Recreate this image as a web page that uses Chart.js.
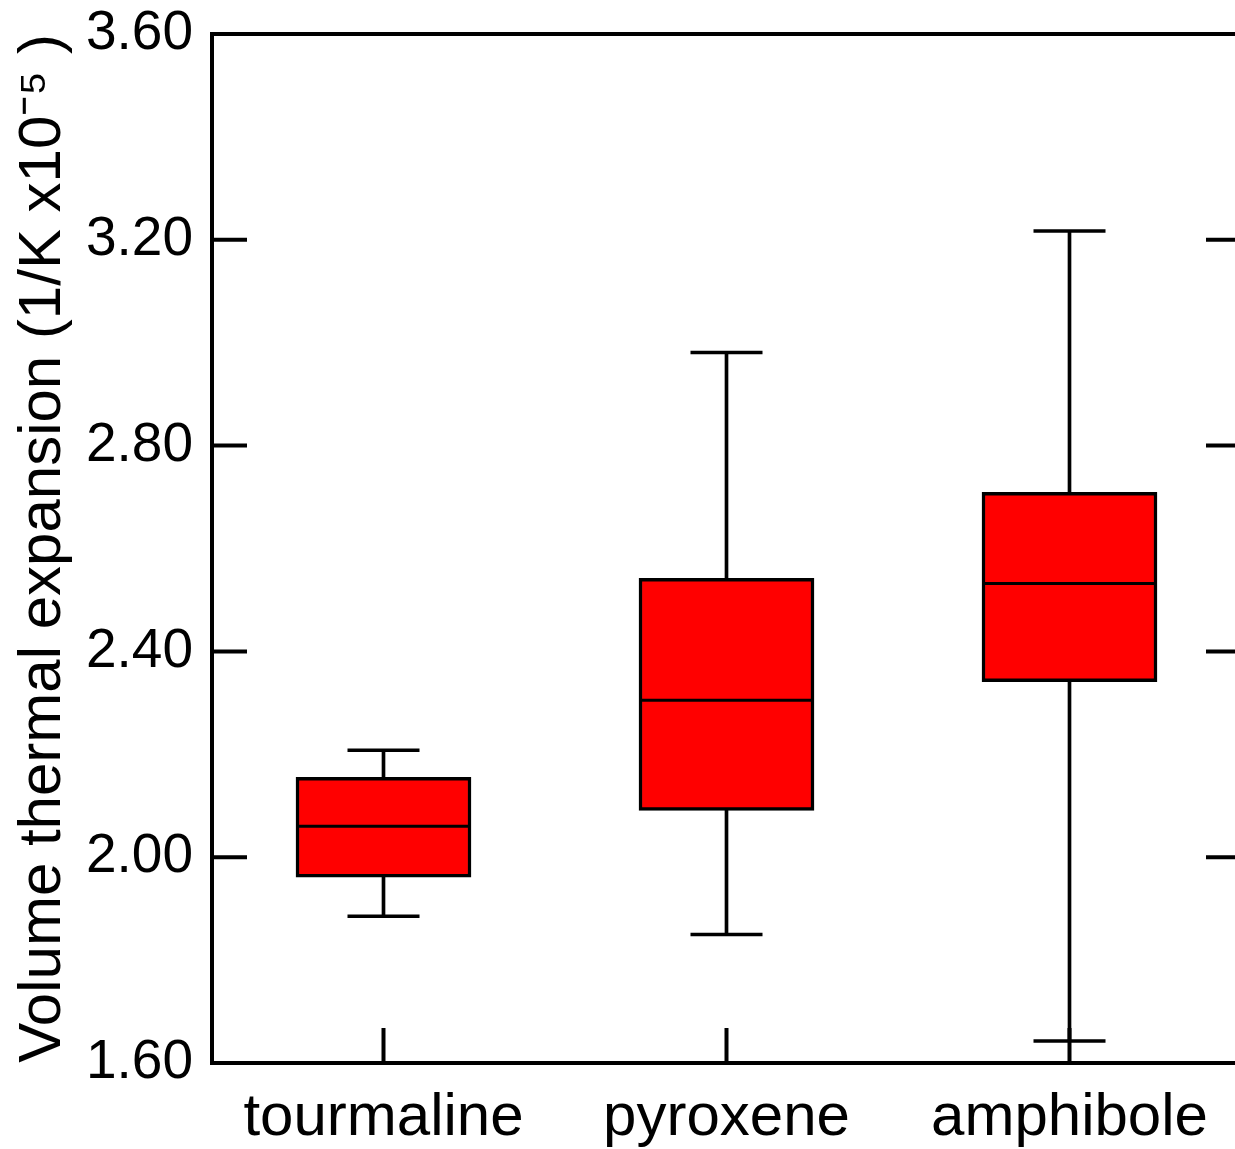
<!DOCTYPE html>
<html>
<head>
<meta charset="utf-8">
<script src="https://cdn.jsdelivr.net/npm/chart.js@4.4.1/dist/chart.umd.min.js"></script>
<style>
  html, body { margin: 0; padding: 0; overflow: hidden; background: #fff; }
</style>
</head>
<body>
<canvas id="myChart" width="1250" height="1149"></canvas>
<script>
var minerales = ['tourmaline', 'pyroxene', 'amphibole'];
var bigoteBajo = [1.885, 1.850, 1.643];
var cuartil1 = [1.961, 2.091, 2.341];
var mediana = [2.060, 2.305, 2.532];
var cuartil3 = [2.155, 2.542, 2.709];
var bigoteAlto = [2.208, 2.981, 3.217];
var yTicks = [1.60, 2.00, 2.40, 2.80, 3.20, 3.60];

var fuente = 'Liberation Sans, Arial, sans-serif';
var largoTick = 35;

// marco superior/derecho y ticks hacia dentro
var marco = {
  id: 'marco',
  afterDraw: function (chart) {
    var ctx = chart.ctx, a = chart.chartArea;
    var x = chart.scales.x, y = chart.scales.y;
    ctx.save();
    ctx.strokeStyle = '#000';
    ctx.lineWidth = 4;
    ctx.beginPath();
    ctx.moveTo(a.left - 2, a.top);
    ctx.lineTo(a.right, a.top);
    ctx.lineTo(a.right, a.bottom);
    for (var i = 1; i < yTicks.length - 1; i++) {
      var py = y.getPixelForValue(yTicks[i]);
      ctx.moveTo(a.left, py);
      ctx.lineTo(a.left + largoTick, py);
      ctx.moveTo(a.right, py);
      ctx.lineTo(a.right - largoTick, py);
    }
    for (var j = 0; j < minerales.length; j++) {
      var px = x.getPixelForTick(j);
      ctx.moveTo(px, a.bottom);
      ctx.lineTo(px, a.bottom - largoTick);
    }
    ctx.stroke();
    ctx.restore();
  }
};

var datos = {
  labels: minerales,
  datasets: [
    {
      type: 'line',
      data: mediana,
      showLine: false,
      pointStyle: 'line',
      pointRadius: 86,
      pointBorderWidth: 3,
      pointBorderColor: '#000',
      order: 0
    },
    {
      type: 'line',
      data: bigoteAlto,
      showLine: false,
      pointStyle: 'line',
      pointRadius: 36,
      pointBorderWidth: 3.5,
      pointBorderColor: '#000',
      order: 0
    },
    {
      type: 'line',
      data: bigoteBajo,
      showLine: false,
      pointStyle: 'line',
      pointRadius: 36,
      pointBorderWidth: 3.5,
      pointBorderColor: '#000',
      order: 0
    },
    {
      type: 'bar',
      data: minerales.map(function (m, i) { return [cuartil1[i], cuartil3[i]]; }),
      backgroundColor: '#ff0000',
      borderColor: '#000',
      borderWidth: 3.5,
      borderSkipped: false,
      barThickness: 175,
      grouped: false,
      order: 1
    },
    {
      type: 'bar',
      data: minerales.map(function (m, i) { return [bigoteBajo[i], bigoteAlto[i]]; }),
      backgroundColor: '#000',
      borderWidth: 0,
      barThickness: 3,
      grouped: false,
      order: 2
    }
  ]
};

var opciones = {
  responsive: false,
  animation: false,
  events: [],
  layout: { autoPadding: false, padding: { top: 34, right: 9, left: 0, bottom: 0 } },
  plugins: {
    legend: { display: false },
    tooltip: { enabled: false }
  },
  scales: {
    x: {
      offset: true,
      grid: { display: false, drawTicks: false },
      border: { display: true, color: '#000', width: 4 },
      ticks: { color: '#000', padding: 19, font: { family: fuente, size: 60 } },
      afterFit: function (s) { s.height = 86; s.paddingLeft = 0; s.paddingRight = 0; }
    },
    y: {
      min: 1.6,
      max: 3.6,
      afterBuildTicks: function (s) { s.ticks = yTicks.map(function (v) { return { value: v }; }); },
      grid: { display: false, drawTicks: false },
      border: { display: true, color: '#000', width: 4 },
      ticks: {
        color: '#000',
        padding: 19,
        font: { family: fuente, size: 55 },
        callback: function (v) { return Number(v).toFixed(2); }
      },
      title: {
        display: true,
        text: 'Volume thermal expansion (1/K x10\u207B\u2075 )',
        color: '#000',
        padding: { top: 7, bottom: 0 },
        font: { family: fuente, size: 60, weight: 'normal' }
      },
      afterFit: function (s) { s.width = 212; s.paddingTop = 0; s.paddingBottom = 0; }
    }
  }
};

var myChart = new Chart(document.getElementById('myChart'), {
  type: 'bar',
  data: datos,
  options: opciones,
  plugins: [marco]
});
</script>
</body>
</html>
